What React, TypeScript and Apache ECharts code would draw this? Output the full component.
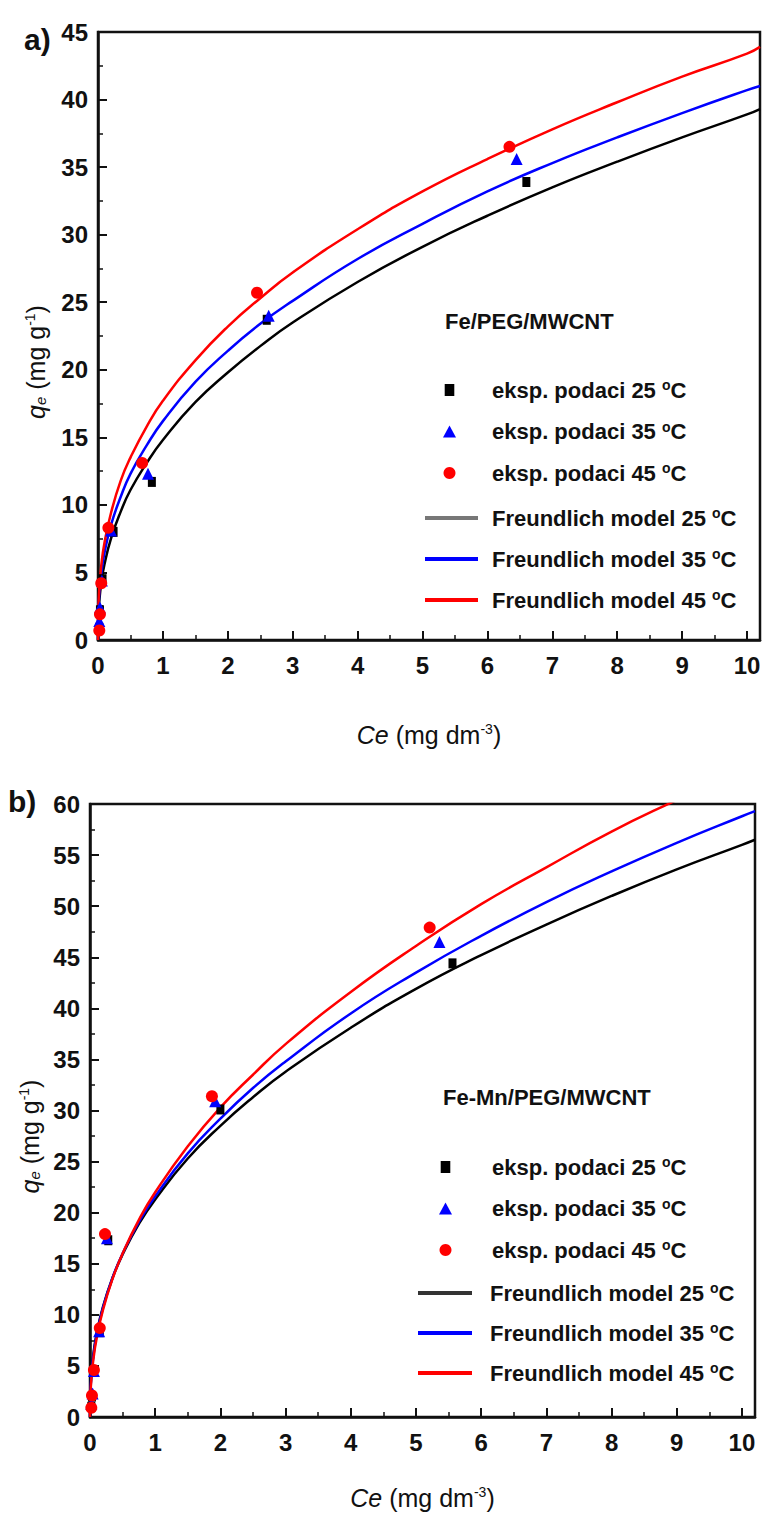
import React, { useEffect, useRef } from 'react';
import * as echarts from 'echarts';

const FONT = '"Liberation Sans", Arial, Helvetica, sans-serif';

// Series names (shared by both panels)
const S25 = 'eksp. podaci 25 °C';
const S35 = 'eksp. podaci 35 °C';
const S45 = 'eksp. podaci 45 °C';
const L25 = 'Freundlich model 25 °C';
const L35 = 'Freundlich model 35 °C';
const L45 = 'Freundlich model 45 °C';

// Panel a) Fe/PEG/MWCNT — experimental points [Ce, qe]
const aExp25: [number, number][] = [[0.02, 0.9], [0.03, 2.2], [0.07, 4.5], [0.24, 8.0], [0.83, 11.7], [2.6, 23.7], [6.6, 33.9]];
const aExp35: [number, number][] = [[0.02, 1.4], [0.03, 2.4], [0.06, 4.4], [0.2, 8.1], [0.77, 12.3], [2.63, 24.0], [6.45, 35.6]];
const aExp45: [number, number][] = [[0.02, 0.7], [0.03, 1.9], [0.05, 4.2], [0.16, 8.3], [0.68, 13.1], [2.45, 25.7], [6.34, 36.5]];

// Model curves at these Ce values
const curveX = [0, 0.005, 0.02, 0.05, 0.1, 0.2, 0.35, 0.5, 0.75, 1, 1.5, 2, 2.5, 3, 4, 5, 6, 7, 8, 9, 10, 10.2];
const aModel25 = [0, 1.6, 2.86, 4.2, 5.6, 7.5, 9.5, 11.1, 13.1, 14.8, 17.6, 19.8, 21.75, 23.5, 26.5, 29.1, 31.4, 33.5, 35.4, 37.2, 38.9, 39.3];
const aModel35 = [0, 1.95, 3.4, 4.9, 6.45, 8.5, 10.6, 12.3, 14.4, 16.2, 19.1, 21.4, 23.4, 25.1, 28.2, 30.8, 33.2, 35.3, 37.2, 39.0, 40.7, 41.0];
const aModel45 = [0, 2.24, 3.85, 5.5, 7.2, 9.4, 11.8, 13.5, 15.8, 17.7, 20.7, 23.2, 25.3, 27.2, 30.4, 33.2, 35.6, 37.8, 39.8, 41.7, 43.4, 43.9];

// Panel b) Fe-Mn/PEG/MWCNT
const bExp25: [number, number][] = [[0.02, 1.0], [0.03, 2.0], [0.06, 4.5], [0.15, 8.3], [0.28, 17.3], [2.0, 30.1], [5.56, 44.4]];
const bExp35: [number, number][] = [[0.02, 1.3], [0.04, 2.3], [0.06, 4.5], [0.14, 8.4], [0.26, 17.5], [1.92, 30.9], [5.36, 46.5]];
const bExp45: [number, number][] = [[0.02, 0.9], [0.03, 2.1], [0.06, 4.6], [0.15, 8.7], [0.23, 17.9], [1.87, 31.4], [5.21, 47.9]];
const bModel25 = [0, 2.3, 4.1, 6.05, 8.1, 10.8, 13.7, 15.9, 18.9, 21.3, 25.3, 28.5, 31.3, 33.8, 38.1, 41.9, 45.2, 48.2, 51.0, 53.6, 56.0, 56.5];
const bModel35 = [0, 2.16, 3.94, 5.87, 7.93, 10.7, 13.7, 16.0, 19.1, 21.6, 25.8, 29.2, 32.2, 34.8, 39.5, 43.5, 47.1, 50.4, 53.4, 56.2, 58.8, 59.3];
const bModel45 = [0, 1.92, 3.64, 5.54, 7.63, 10.5, 13.6, 16.0, 19.3, 22.0, 26.5, 30.3, 33.5, 36.5, 41.6, 46.1, 50.2, 53.8, 57.3, 60.4, 63.4, 63.9];

const panelTitles = ['Fe/PEG/MWCNT', 'Fe-Mn/PEG/MWCNT'];
const panelLetters = ['a)', 'b)'];
const yMax = [45, 60];

const BLACK = '#000000';
const BLUE = '#0000ff';
const RED = '#ff0000';
const INK = '#111111';
const SQUARE = 'path://M0,0H8V10H0Z';

const pairs = (xs: number[], ys: number[]) => xs.map((x, i) => [x, ys[i]]);

function legendText(gap: number) {
  return {
    fontFamily: FONT,
    fontSize: 22,
    fontWeight: 'bold',
    color: INK,
    lineHeight: 24,
    rich: {
      g: { width: gap, lineHeight: 24, fontSize: 12 },
      s: { fontSize: 14, fontWeight: 'bold', lineHeight: 16, verticalAlign: 'top', color: INK, fontFamily: FONT },
    },
  };
}
const legendFmt = (name: string) => `{g| }${name.replace(' °C', '')} {s|o}C`;

function xAxisCfg(gridIndex: number, nameGap: number) {
  return {
    type: 'value',
    gridIndex,
    min: 0,
    max: 10.2,
    interval: 1,
    name: '{i|Ce} (mg dm{sup|-3})',
    nameLocation: 'middle',
    nameGap,
    nameTextStyle: {
      fontFamily: FONT,
      fontSize: 25,
      color: INK,
      rich: {
        i: { fontStyle: 'italic', fontSize: 25, fontFamily: FONT, color: INK },
        sup: { fontSize: 14, verticalAlign: 'top', lineHeight: 14, fontFamily: FONT, color: INK },
      },
    },
    axisLine: { show: true, lineStyle: { color: INK, width: 2.5 } },
    axisTick: { show: true, inside: true, length: 9, lineStyle: { color: INK, width: 2 } },
    minorTick: { show: true, splitNumber: 2, length: 5, lineStyle: { color: INK, width: 1.5 } },
    axisLabel: {
      fontFamily: FONT,
      fontSize: 24,
      fontWeight: 'bold',
      color: INK,
      margin: 13,
      formatter: (v: number) => (Number.isInteger(v) ? String(v) : ''),
    },
    splitLine: { show: false },
  };
}

function yAxisCfg(gridIndex: number, max: number, nameGap: number) {
  return {
    type: 'value',
    gridIndex,
    min: 0,
    max,
    interval: 5,
    name: '{q|q}{e|e} (mg g{sup|-1})',
    nameLocation: 'middle',
    nameRotate: 90,
    nameGap,
    nameTextStyle: {
      fontFamily: FONT,
      fontSize: 25,
      color: INK,
      padding: [0, 52, 0, 0],
      rich: {
        q: { fontStyle: 'italic', fontSize: 25, fontFamily: FONT, color: INK },
        e: { fontStyle: 'italic', fontSize: 15, verticalAlign: 'bottom', lineHeight: 14, fontFamily: FONT, color: INK },
        sup: { fontSize: 14, verticalAlign: 'top', lineHeight: 14, fontFamily: FONT, color: INK },
      },
    },
    axisLine: { show: true, lineStyle: { color: INK, width: 2.5 } },
    axisTick: { show: true, inside: true, length: 9, lineStyle: { color: INK, width: 2 } },
    minorTick: { show: true, splitNumber: 2, length: 5, lineStyle: { color: INK, width: 1.5 } },
    axisLabel: { fontFamily: FONT, fontSize: 24, fontWeight: 'bold', color: INK, margin: 10 },
    splitLine: { show: false },
  };
}

function scatter(name: string, idx: number, data: [number, number][], symbol: string, size: any, color: string) {
  return {
    type: 'scatter',
    name,
    xAxisIndex: idx,
    yAxisIndex: idx,
    data,
    symbol,
    symbolSize: size,
    itemStyle: { color, opacity: 1 },
    z: 4,
  };
}

function curve(name: string, idx: number, ys: number[], color: string) {
  return {
    type: 'line',
    name,
    xAxisIndex: idx,
    yAxisIndex: idx,
    data: pairs(curveX, ys),
    symbol: 'none',
    showSymbol: false,
    smooth: 0.5,
    clip: true,
    lineStyle: { color, width: 2.5 },
    itemStyle: { color },
    z: 3,
  };
}

function scatterLegend(left: number, top: number, gap: number) {
  return {
    orient: 'vertical',
    left,
    top,
    padding: 0,
    itemWidth: 13,
    itemHeight: 12,
    itemGap: 17.5,
    selectedMode: false,
    itemStyle: { borderWidth: 0 },
    data: [
      { name: S25, icon: SQUARE, itemStyle: { color: BLACK, opacity: 1, borderWidth: 0 } },
      { name: S35, icon: 'triangle', itemStyle: { color: BLUE, opacity: 1, borderWidth: 0 } },
      { name: S45, icon: 'circle', itemStyle: { color: RED, opacity: 1, borderWidth: 0 } },
    ],
    formatter: legendFmt,
    textStyle: legendText(gap),
  };
}

function lineLegend(left: number, top: number, width: number, gapY: number, gap: number, c25: string) {
  return {
    orient: 'vertical',
    left,
    top,
    padding: 0,
    itemWidth: width,
    itemHeight: 4,
    itemGap: gapY,
    selectedMode: false,
    itemStyle: { borderWidth: 0 },
    data: [
      { name: L25, icon: 'rect', itemStyle: { color: c25, borderWidth: 0 } },
      { name: L35, icon: 'rect', itemStyle: { color: BLUE, borderWidth: 0 } },
      { name: L45, icon: 'rect', itemStyle: { color: RED, borderWidth: 0 } },
    ],
    formatter: legendFmt,
    textStyle: legendText(gap),
  };
}

export default function App() {
  const ref = useRef<HTMLDivElement>(null);

  useEffect(() => {
    if (!ref.current) return;
    const chart = echarts.init(ref.current, null, { renderer: 'svg' });
    const option: any = {
      animation: false,
      backgroundColor: '#ffffff',
      textStyle: { fontFamily: FONT },
      title: [
        { text: panelLetters[0], left: 24, top: 24, padding: 0, textStyle: { fontFamily: FONT, fontSize: 30, fontWeight: 'bold', color: INK } },
        { text: panelLetters[1], left: 8, top: 786, padding: 0, textStyle: { fontFamily: FONT, fontSize: 30, fontWeight: 'bold', color: INK } },
        { text: panelTitles[0], left: 445, top: 310, padding: 0, textStyle: { fontFamily: FONT, fontSize: 22, fontWeight: 'bold', color: INK } },
        { text: panelTitles[1], left: 443, top: 1086, padding: 0, textStyle: { fontFamily: FONT, fontSize: 22, fontWeight: 'bold', color: INK } },
      ],
      legend: [
        scatterLegend(443, 378, 31),
        lineLegend(425, 506, 53, 17, 9, '#777777'),
        scatterLegend(439, 1155, 35),
        lineLegend(418, 1281, 54, 16, 13, '#333333'),
      ],
      grid: [
        { left: 98, top: 32, width: 662, height: 608, show: true, borderColor: INK, borderWidth: 2.5, backgroundColor: 'transparent' },
        { left: 90, top: 804, width: 665, height: 613, show: true, borderColor: INK, borderWidth: 2.5, backgroundColor: 'transparent' },
      ],
      xAxis: [xAxisCfg(0, 82), xAxisCfg(1, 68)],
      yAxis: [yAxisCfg(0, yMax[0], 50), yAxisCfg(1, yMax[1], 48)],
      series: [
        curve(L25, 0, aModel25, BLACK),
        curve(L35, 0, aModel35, BLUE),
        curve(L45, 0, aModel45, RED),
        scatter(S25, 0, aExp25, 'rect', [8, 10], BLACK),
        scatter(S35, 0, aExp35, 'triangle', 12, BLUE),
        scatter(S45, 0, aExp45, 'circle', 12, RED),
        curve(L25, 1, bModel25, BLACK),
        curve(L35, 1, bModel35, BLUE),
        curve(L45, 1, bModel45, RED),
        scatter(S25, 1, bExp25, 'rect', [8, 10], BLACK),
        scatter(S35, 1, bExp35, 'triangle', 12, BLUE),
        scatter(S45, 1, bExp45, 'circle', 12, RED),
      ],
    };
    chart.setOption(option);
    return () => chart.dispose();
  }, []);

  return <div ref={ref} style={{ position: 'absolute', left: 0, top: 0, width: 764, height: 1515 }} />;
}
